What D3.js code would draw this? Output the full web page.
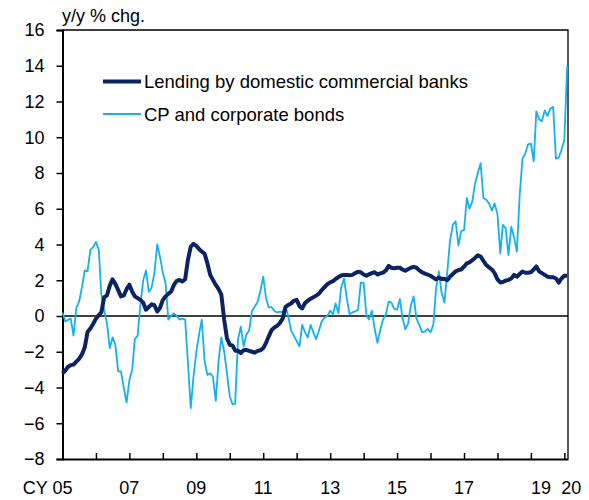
<!DOCTYPE html>
<html>
<head>
<meta charset="utf-8">
<script src="https://cdn.jsdelivr.net/npm/d3@7"></script>
<style>
  body { margin: 0; background: #fff; }
  svg { font-family: "Liberation Sans", Arial, sans-serif; }
</style>
</head>
<body>
<svg width="589" height="500"></svg>
<script>
// monthly data, Jan 2005 .. Feb 2020 (y/y % chg.)
var startMonth = new Date(2005, 0, 1);
var bankLending = [
  -3.2, -3.05, -2.85, -2.75, -2.72, -2.55, -2.4, -2.15, -1.75, -0.9, -0.7, -0.45,   // 05
  -0.15, 0.05, 0.2, 1.05, 1.15, 1.7, 2.05, 1.8, 1.45, 1.1, 1.15, 1.5,               // 06
  1.75, 1.35, 1.1, 1.0, 0.9, 0.75, 0.35, 0.5, 0.65, 0.6, 0.25, 0.45,                // 07
  0.9, 1.1, 1.24, 1.37, 1.74, 1.97, 2.02, 1.93, 2.06, 3.14, 3.88, 4.04,             // 08
  3.92, 3.74, 3.61, 3.48, 2.96, 2.3, 2.02, 1.74, 1.5, 1.19, -0.21, -1.24,           // 09
  -1.61, -1.66, -1.94, -1.94, -2.07, -1.92, -1.89, -1.95, -2.0, -2.05, -1.95, -1.92, // 10
  -1.8, -1.5, -1.15, -0.8, -0.65, -0.55, -0.4, -0.15, 0.5, 0.62, 0.7, 0.85,         // 11
  0.9, 0.55, 0.42, 0.72, 0.85, 0.97, 1.05, 1.14, 1.25, 1.45, 1.62, 1.78,            // 12
  1.88, 1.95, 2.07, 2.18, 2.27, 2.3, 2.3, 2.28, 2.3, 2.4, 2.48, 2.45,               // 13
  2.32, 2.25, 2.33, 2.4, 2.45, 2.32, 2.38, 2.43, 2.55, 2.8, 2.7, 2.67,              // 14
  2.7, 2.7, 2.6, 2.53, 2.62, 2.7, 2.75, 2.7, 2.55, 2.45, 2.37, 2.32,                // 15
  2.25, 2.15, 2.05, 2.15, 2.07, 2.08, 2.0, 2.2, 2.35, 2.5, 2.57, 2.6,               // 16
  2.76, 2.95, 3.0, 3.12, 3.25, 3.4, 3.33, 3.08, 2.85, 2.72, 2.6, 2.4,               // 17
  2.05, 1.88, 1.9, 1.98, 2.02, 2.1, 2.3, 2.2, 2.35, 2.49, 2.42, 2.42,               // 18
  2.45, 2.6, 2.77, 2.5, 2.4, 2.3, 2.2, 2.17, 2.17, 2.1, 1.87, 2.1,                  // 19
  2.25, 2.25                                                                        // 20
];
var cpBonds = [
  0.2, -0.3, -0.22, -0.15, -1.1, 0.45, 0.8, 1.6, 2.55, 2.5, 3.7, 3.85,              // 05
  4.15, 3.7, 1.2, 0.3, -0.4, -1.8, -1.2, -1.6, -3.1, -3.1, -4.0, -4.85,             // 06
  -3.6, -3.0, -1.3, -1.1, 0.6, 2.0, 2.55, 1.35, 1.6, 2.4, 4.0, 3.3,                 // 07
  2.45, 1.8, -0.2, 0.0, 0.15, 0.0, -0.2, -0.15, -0.2, -2.6, -5.15, -3.4,            // 08
  -2.0, -1.0, -0.2, -2.5, -3.3, -3.2, -3.4, -4.75, -2.5, -1.2, -2.0, -3.2,          // 09
  -4.5, -4.95, -4.9, -1.3, -0.6, -1.7, -1.05, -0.8, 0.3, 0.53, 0.8, 1.4,            // 10
  2.2, 1.0, 0.5, 0.5, 0.3, 0.2, 0.25, 0.2, 0.55, 0.0, -0.8, -1.1,                   // 11
  -1.4, -1.7, -0.5, -0.9, -1.2, -0.5, -0.9, -1.3, -0.8, -0.3, -0.1, 0.0,            // 12
  0.3, 0.1, 0.7, 0.15, 1.6, 2.1, 1.0, 0.1, 0.2, 0.26, 0.35, 1.86,                   // 13
  1.86, 0.0, -0.2, 0.3, -0.7, -1.5, -0.8, -0.2, 0.1, 0.8, 0.75, 0.4,                // 14
  0.35, 0.95, -0.1, -0.75, -0.42, 0.6, 1.1, -0.15, -0.5, -0.9, -0.87, -0.72,        // 15
  -0.9, -0.5, 1.5, 2.5, 1.3, 0.75, 2.4, 4.2, 5.1, 5.3, 3.95, 4.75,                  // 16
  4.8, 6.6, 6.0, 6.4, 7.4, 8.0, 8.55, 6.6, 6.5, 6.3, 5.9, 6.3,                      // 17
  5.7, 3.5, 5.1, 4.9, 3.4, 5.0, 4.4, 3.6, 6.8, 8.8, 9.1, 9.6,                       // 18
  9.65, 8.65, 11.45, 11.0, 10.9, 11.5, 11.2, 11.6, 11.7, 8.8, 8.85, 9.3,            // 19
  9.85, 14.0                                                                        // 20
];
var yTicks = [-8, -6, -4, -2, 0, 2, 4, 6, 8, 10, 12, 14, 16];
var xTickYears = d3.range(2005, 2021);
var xLabelYears = [2005, 2007, 2009, 2011, 2013, 2015, 2017, 2019, 2020];
var xLabels = ["CY 05", "07", "09", "11", "13", "15", "17", "19", "20"];
var seriesNames = ["Lending by domestic commercial banks", "CP and corporate bonds"];
var colors = ["#0b2461", "#14b1ee"];

var svg = d3.select("svg"),
  margin = {top: 30, right: 21, bottom: 41, left: 62.5},
  width = +svg.attr("width") - margin.left - margin.right,
  height = +svg.attr("height") - margin.top - margin.bottom,
  g = svg.append("g").attr("transform", "translate(" + margin.left + "," + margin.top + ")");

var x = d3.scaleTime()
  .domain([new Date(2005, 0, 1), new Date(2020, 1, 10)])
  .range([0, width]);
var y = d3.scaleLinear().domain([-8, 16]).range([height, 0]);

function toPoints(vals) {
  return vals.map(function(v, i) {
    return {date: d3.timeMonth.offset(startMonth, i), value: v};
  });
}

var line = d3.line()
  .x(function(d) { return x(d.date); })
  .y(function(d) { return y(d.value); });

// frame (top + right)
g.append("path")
  .attr("d", "M0,0H" + width + "V" + height)
  .attr("fill", "none")
  .attr("stroke", "#000")
  .attr("stroke-width", 1.3);

// zero line
g.append("line")
  .attr("x1", 0).attr("x2", width)
  .attr("y1", y(0)).attr("y2", y(0))
  .attr("stroke", "#000")
  .attr("stroke-width", 1.5);

// y axis
var yAxis = g.append("g")
  .call(d3.axisLeft(y).tickValues(yTicks).tickSize(6).tickPadding(12).tickFormat(d3.format("d")));
yAxis.select(".domain").attr("stroke-width", 2);
yAxis.selectAll(".tick line").attr("stroke-width", 1.5);
yAxis.selectAll("text").attr("font-size", 18).attr("fill", "#000")
  .attr("font-family", "Liberation Sans, Arial, sans-serif");

// x axis (ticks inside, labels drawn separately)
var xAxis = g.append("g")
  .attr("transform", "translate(0," + height + ")")
  .call(d3.axisBottom(x)
    .tickValues(xTickYears.map(function(yr) { return new Date(yr, 0, 1); }))
    .tickSizeInner(-6).tickSizeOuter(0).tickFormat(""));
xAxis.select(".domain").attr("stroke-width", 2);
xAxis.selectAll(".tick line").attr("stroke-width", 1.5);

var labelShift = {"CY 05": 10, "19": 10, "20": 7};
g.selectAll(".xlab")
  .data(xLabels)
  .enter().append("text")
  .attr("class", "xlab")
  .attr("x", function(d, i) { return x(new Date(xLabelYears[i], 0, 1)) + (labelShift[d] || 0); })
  .attr("y", height + 35)
  .attr("text-anchor", function(d) { return d == "CY 05" ? "end" : "middle"; })
  .attr("font-size", 18)
  .attr("fill", "#000")
  .text(function(d) { return d; });

// unit label
svg.append("text")
  .attr("x", 62)
  .attr("y", 22)
  .attr("font-size", 18)
  .attr("fill", "#000")
  .text("y/y % chg.");

// series
g.append("path")
  .datum(toPoints(cpBonds))
  .attr("fill", "none")
  .attr("stroke", colors[1])
  .attr("stroke-width", 1.8)
  .attr("stroke-linejoin", "round")
  .attr("d", line);

g.append("path")
  .datum(toPoints(bankLending))
  .attr("fill", "none")
  .attr("stroke", colors[0])
  .attr("stroke-width", 4)
  .attr("stroke-linejoin", "round")
  .attr("d", line);

// legend
var legend = svg.append("g");
seriesNames.forEach(function(name, i) {
  var ly = 81.5 + i * 32.5;
  legend.append("line")
    .attr("x1", 103).attr("x2", 141)
    .attr("y1", ly).attr("y2", ly)
    .attr("stroke", colors[i])
    .attr("stroke-width", i == 0 ? 4 : 1.8);
  legend.append("text")
    .attr("x", 144)
    .attr("y", ly + 6.5)
    .attr("font-size", 18.5)
    .attr("fill", "#000")
    .text(name);
});
</script>
</body>
</html>
